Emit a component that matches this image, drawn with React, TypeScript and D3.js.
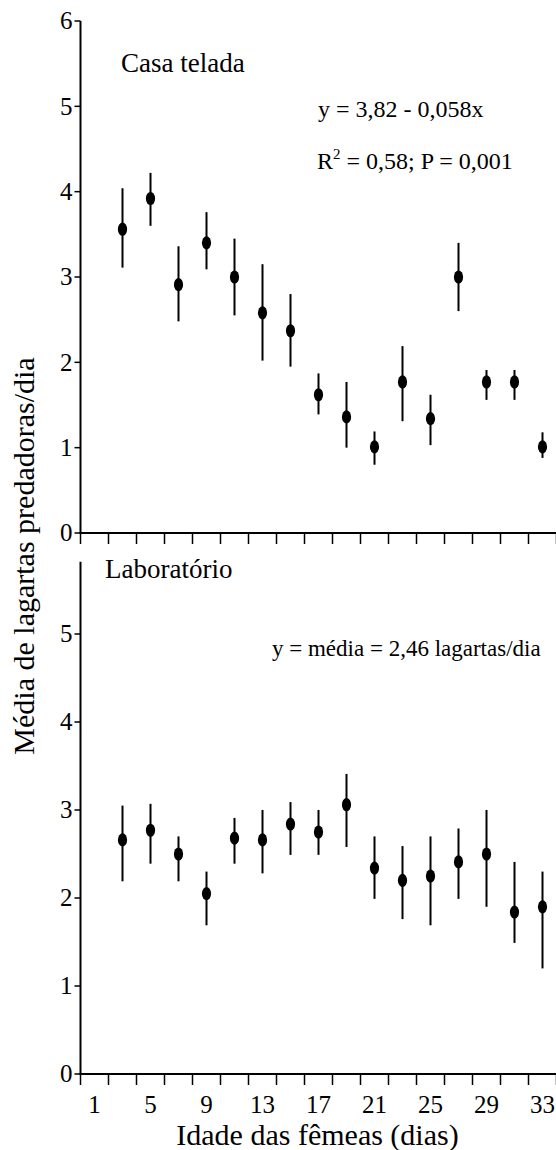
import React from 'react';
import * as d3 from 'd3';

// ---- data ----
const ages = [3, 5, 7, 9, 11, 13, 15, 17, 19, 21, 23, 25, 27, 29, 31, 33];

const casaMean = [3.56, 3.92, 2.91, 3.40, 3.00, 2.58, 2.37, 1.62, 1.36, 1.01, 1.77, 1.34, 3.00, 1.77, 1.77, 1.01];
const casaUpper = [4.04, 4.22, 3.36, 3.76, 3.45, 3.15, 2.80, 1.87, 1.77, 1.19, 2.19, 1.62, 3.40, 1.91, 1.91, 1.18];
const casaLower = [3.11, 3.60, 2.48, 3.09, 2.55, 2.02, 1.95, 1.39, 1.00, 0.80, 1.31, 1.03, 2.60, 1.56, 1.56, 0.88];

const labMean = [2.66, 2.77, 2.50, 2.05, 2.68, 2.66, 2.84, 2.75, 3.06, 2.34, 2.20, 2.25, 2.41, 2.50, 1.84, 1.90];
const labUpper = [3.05, 3.07, 2.70, 2.30, 2.91, 3.00, 3.09, 3.00, 3.41, 2.70, 2.59, 2.70, 2.79, 3.00, 2.41, 2.30];
const labLower = [2.19, 2.39, 2.19, 1.69, 2.39, 2.28, 2.49, 2.49, 2.58, 1.99, 1.76, 1.69, 1.99, 1.90, 1.49, 1.20];

const xTickValues = [0, 2, 4, 6, 8, 10, 12, 14, 16, 18, 20, 22, 24, 26, 28, 30, 32, 34];
const xLabelValues = [1, 5, 9, 13, 17, 21, 25, 29, 33];
const topYTicks = [0, 1, 2, 3, 4, 5, 6];
const bottomYTicks = [0, 1, 2, 3, 4, 5];

const FONT = "'Liberation Serif', 'Times New Roman', 'DejaVu Serif', serif";

export default function App() {
  const x = d3.scaleLinear().domain([0, 34]).range([80.5, 556.5]);
  const yTop = d3.scaleLinear().domain([0, 6]).range([533, 21]);
  const yBot = d3.scaleLinear().domain([0, 5]).range([1074, 634]);
  const botMax = 5.82;

  const panel = (
    y: d3.ScaleLinear<number, number>,
    yTicks: number[],
    yMax: number,
    mean: number[],
    upper: number[],
    lower: number[],
    key: string
  ) => (
    <g key={key}>
      <line x1={x(0)} x2={x(0)} y1={y(yMax)} y2={y(0)} stroke="#000" strokeWidth={2} />
      {yTicks.map((t) => (
        <g key={'yt' + t}>
          <line x1={x(0) - 6} x2={x(0)} y1={y(t)} y2={y(t)} stroke="#000" strokeWidth={1.5} />
          <text x={x(0) - 8} y={y(t)} dy="0.33em" textAnchor="end" fontSize={25} style={{ fontFamily: FONT }}>
            {t}
          </text>
        </g>
      ))}
      <line x1={x(0) - 1} x2={x(34)} y1={y(0)} y2={y(0)} stroke="#000" strokeWidth={2} />
      {xTickValues.map((t) => (
        <line key={'xt' + t} x1={x(t)} x2={x(t)} y1={y(0)} y2={y(0) + 11} stroke="#000" strokeWidth={1.5} />
      ))}
      {ages.map((a, i) => (
        <g key={'p' + a}>
          <line x1={x(a)} x2={x(a)} y1={y(upper[i])} y2={y(lower[i])} stroke="#000" strokeWidth={2} />
          <ellipse cx={x(a)} cy={y(mean[i])} rx={4.6} ry={6.6} fill="#000" />
        </g>
      ))}
    </g>
  );

  const ts = { fontFamily: FONT };

  return (
    <svg
      width={556}
      height={1150}
      style={{ position: 'absolute', left: 0, top: 0, background: '#fff', fontFamily: FONT }}
    >
      <rect x={0} y={0} width={556} height={1150} fill="#fff" />
      {panel(yTop, topYTicks, 6, casaMean, casaUpper, casaLower, 'top')}
      {panel(yBot, bottomYTicks, botMax, labMean, labUpper, labLower, 'bot')}

      <text x={121} y={72} fontSize={27} style={ts}>Casa telada</text>
      <text x={318} y={117} fontSize={24} style={ts}>y = 3,82 - 0,058x</text>
      <text x={317} y={169} fontSize={24} style={ts}>
        R<tspan fontSize={15} dy={-10}>2</tspan>
        <tspan dy={10}> = 0,58; P = 0,001</tspan>
      </text>

      <text x={105} y={578} fontSize={27} style={ts}>Laboratório</text>
      <text x={272} y={656} fontSize={23} style={ts}>y = média = 2,46 lagartas/dia</text>

      {xLabelValues.map((v) => (
        <text key={'xl' + v} x={x(v)} y={1113} textAnchor="middle" fontSize={25} style={ts}>
          {v}
        </text>
      ))}
      <text x={317.5} y={1145} textAnchor="middle" fontSize={30} style={ts}>
        Idade das fêmeas (dias)
      </text>

      <text transform={`translate(34, 556) rotate(-90)`} textAnchor="middle" fontSize={30} style={ts}>
        Média de lagartas predadoras/dia
      </text>
    </svg>
  );
}
